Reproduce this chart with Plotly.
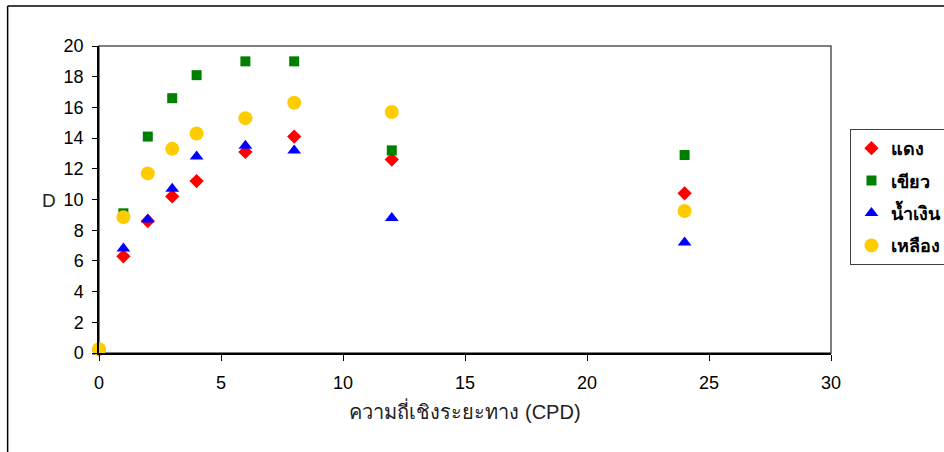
import plotly.graph_objects as go

# Spatial frequency (cycles per degree)
freq = [0, 1, 2, 3, 4, 6, 8, 12, 24]

# D values per colour series
red = [0.2, 6.3, 8.6, 10.2, 11.2, 13.1, 14.1, 12.6, 10.4]
green = [0.2, 9.1, 14.1, 16.6, 18.1, 19.0, 19.0, 13.2, 12.9]
blue = [0.1, 6.8, 8.7, 10.7, 12.8, 13.5, 13.2, 8.8, 7.2]
yellow = [0.25, 8.85, 11.7, 13.3, 14.3, 15.3, 16.3, 15.7, 9.25]

series_names = ["แดง", "เขียว", "น้ำเงิน", "เหลือง"]
x_ticks = [0, 5, 10, 15, 20, 25, 30]
y_ticks = [0, 2, 4, 6, 8, 10, 12, 14, 16, 18, 20]

W, H = 944, 452
L, R, T, B = 98.5, 112.5, 46, 99
pw, ph = W - L - R, H - T - B

styles = [
    dict(symbol="diamond", color="#FF0000", size=11),
    dict(symbol="square", color="#008000", size=10),
    dict(symbol="triangle-up", color="#0000FF", size=12),
    dict(symbol="circle", color="#FFCC00", size=14),
]

fig = go.Figure()
for name, vals, st in zip(series_names, [red, green, blue, yellow], styles):
    fig.add_trace(go.Scatter(
        x=freq, y=vals, mode="markers", name=name, legendgroup=name,
        cliponaxis=False,
        marker=dict(symbol=st["symbol"], color=st["color"], size=st["size"],
                    line=dict(width=0)),
    ))

font_family = "Liberation Sans, Arial, sans-serif"

fig.update_layout(
    width=W, height=H,
    margin=dict(l=L, r=R, t=T, b=B, pad=0, autoexpand=False),
    paper_bgcolor="white", plot_bgcolor="white",
    font=dict(family=font_family, color="black", size=18),
    showlegend=True,
    legend=dict(
        x=(851 - L) / pw, y=(353 - 129) / ph, xanchor="left", yanchor="top",
        bgcolor="white", bordercolor="#404040", borderwidth=1,
        font=dict(size=18, family=font_family, color="black", weight="bold"),
        traceorder="grouped", tracegroupgap=6, itemwidth=30,
    ),
    xaxis=dict(
        range=[0, 30], tickvals=x_ticks, ticks="outside", ticklen=6,
        tickcolor="black", showline=True, linecolor="black", linewidth=1.5,
        showgrid=False, zeroline=False, tickfont=dict(size=18),
        ticklabelstandoff=7,
        title=dict(text="ความถี่เชิงระยะทาง (CPD)", font=dict(size=20, color="#222"),
                   standoff=13),
    ),
    yaxis=dict(
        range=[0, 20], tickvals=y_ticks, ticks="outside", ticklen=5,
        tickcolor="black", showline=True, linecolor="black", linewidth=1.5,
        showgrid=False, zeroline=False, tickfont=dict(size=18),
        ticklabelstandoff=5,
    ),
    annotations=[
        dict(text="D", xref="paper", yref="paper", x=(48 - L) / pw, y=(353 - 200) / ph,
             showarrow=False, font=dict(size=19, color="#222"), xanchor="center",
             yanchor="middle"),
    ],
    shapes=[
        # gray frame on the top and right of the plotting area
        dict(type="rect", xref="paper", yref="paper", x0=0, y0=0, x1=1, y1=1,
             line=dict(color="#555555", width=1.5), layer="below"),
        # outer chart border
        dict(type="line", xref="paper", yref="paper",
             x0=(7 - L) / pw, x1=(W + 5 - L) / pw, y0=(353 - 6) / ph, y1=(353 - 6) / ph,
             line=dict(color="black", width=1.5)),
        dict(type="line", xref="paper", yref="paper",
             x0=(7 - L) / pw, x1=(7 - L) / pw, y0=(353 - 6) / ph, y1=(353 - H - 5) / ph,
             line=dict(color="black", width=1.5)),
    ],
)

fig.write_html("out.html")
